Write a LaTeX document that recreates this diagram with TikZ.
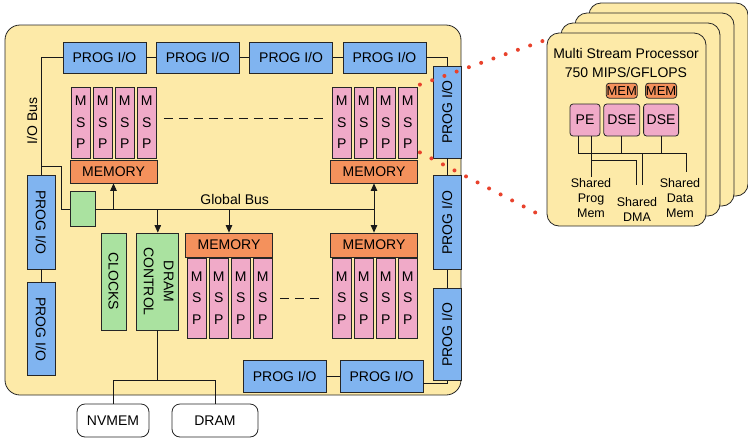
\documentclass[tikz,border=0pt]{standalone}
\usepackage{fontspec}
\setmainfont{Liberation Sans}
\usepackage{graphicx}
\usetikzlibrary{arrows.meta,positioning}
\definecolor{boardfill}{RGB}{253,234,168}
\definecolor{ioblue}{RGB}{128,180,240}
\definecolor{msppink}{RGB}{240,170,200}
\definecolor{memorange}{RGB}{244,145,92}
\definecolor{clkgreen}{RGB}{170,226,160}
\definecolor{dotred}{RGB}{232,66,44}
\tikzset{
  blk/.style={draw=black!85, line width=.8pt, inner sep=0pt, font=\fontsize{14}{16}\selectfont},
  progio/.style={blk, fill=ioblue, minimum width=83pt, minimum height=31pt},
  progiov/.style={blk, fill=ioblue, minimum width=28pt},
  msp/.style={blk, fill=msppink, align=center, minimum width=19.5pt, font=\fontsize{14}{21.5}\selectfont},
  memory/.style={blk, fill=memorange, minimum width=87pt},
  ctrl/.style={blk, fill=clkgreen},
  extmem/.style={blk, fill=white, rounded corners=8pt, minimum height=33pt},
  card/.style={draw=black!85, line width=.8pt, fill=boardfill, rounded corners=12pt,
    minimum width=159pt, minimum height=193pt},
  peunit/.style={blk, fill=msppink, rounded corners=3pt, minimum height=32pt},
  smallmem/.style={blk, fill=memorange, rounded corners=3pt, minimum height=15pt, font=\fontsize{13}{15}\selectfont},
  sharelbl/.style={align=center, inner sep=1pt, font=\fontsize{12.5}{15}\selectfont},
  wire/.style={line width=.8pt, draw=black!90},
  busarrow/.style={wire, -{Triangle[length=7.5pt,width=6.5pt]}},
  gapline/.style={wire, dash pattern=on 9pt off 6pt},
  zoomline/.style={dotred, line width=4pt, line cap=round, dash pattern=on 0pt off 13pt},
}

\begin{document}
\begin{tikzpicture}[x=1pt, y=-1pt]
\useasboundingbox (0,0) rectangle (748,440);

% Processor board
\node[card, rounded corners=15pt, minimum width=456pt, minimum height=370pt] (board) at (233,210) {};

% PROG I/O ring
\node[progio] (tio1) at (104.5,57.5) {PROG I/O};
\node[progio, right=9.5pt of tio1] (tio2) {PROG I/O};
\node[progio, right=9.5pt of tio2] (tio3) {PROG I/O};
\node[progio, right=9.5pt of tio3] (tio4) {PROG I/O};

\node[progiov, minimum height=94pt] (lio1) at (41,222) {\rotatebox{-90}{PROG I/O}};
\node[progiov, minimum height=93pt, below=13pt of lio1] (lio2) {\rotatebox{-90}{PROG I/O}};

\node[progiov, minimum height=92pt] (rio1) at (447,112) {\rotatebox{90}{PROG I/O}};
\node[progiov, minimum height=94pt, below=17pt of rio1] (rio2) {\rotatebox{90}{PROG I/O}};
\node[progiov, minimum height=92pt, below=18pt of rio2] (rio3) {\rotatebox{90}{PROG I/O}};

\node[progio, minimum height=32pt] (bio2) at (381.5,376) {PROG I/O};
\node[progio, minimum height=32pt, left=13pt of bio2] (bio1) {PROG I/O};

\draw[wire] (tio1) -- (tio2);
\draw[wire] (tio2) -- (tio3);
\draw[wire] (tio3) -- (tio4);
\draw[wire] (tio4.east) -| (rio1.north);
\draw[wire] (rio1) -- (rio2);
\draw[wire] (rio2) -- (rio3);
\draw[wire] ([yshift=-7pt]bio2.east) -| (rio3.south);
\draw[wire] (bio1) -- (bio2);
\draw[wire] (lio1) -- (lio2);

% MSP clusters
\foreach \g/\L/\Y/\H in {tl/70/122.5/71, tr/331/122.5/71, bl/186/298/80, br/331/298/80}
  \foreach \i in {0,...,3}
    \node[msp, minimum height=\H pt] (\g\i) at (\L+10.75+22*\i, \Y) {M\\S\\P};

\node[memory, minimum height=23pt] (tlmem) at (113.5,171.5) {MEMORY};
\node[memory, minimum height=23pt] (trmem) at (374,171.5) {MEMORY};
\node[memory, minimum height=24pt] (blmem) at (229,245) {MEMORY};
\node[memory, minimum height=24pt] (brmem) at (374,245) {MEMORY};

\draw[gapline] ([xshift=7pt,yshift=4.5pt]tl3.east) -- ([xshift=-7pt,yshift=4.5pt]tr0.west);
\draw[gapline] ([xshift=7pt]bl3.east) -- ([xshift=-11pt]br0.west);

% Bus, clocks and DRAM
\node[ctrl, minimum width=25pt, minimum height=35pt] (gbox) at (82.5,209) {};
\node[ctrl, minimum width=25pt, minimum height=97pt] (clocks) at (113.5,281.5) {\rotatebox{-90}{CLOCKS}};
\node[ctrl, minimum width=42pt, minimum height=97pt, right=10pt of clocks, font=\fontsize{14}{20}\selectfont] (dramctl)
  {\rotatebox{-90}{\begin{tabular}{@{}c@{}}DRAM\\CONTROL\end{tabular}}};

\node[rotate=90, font=\fontsize{14}{16}\selectfont] (iobus) at (32,121) {I/O Bus};
\coordinate (iojoin) at ([yshift=8pt]lio1.north);
\draw[wire] (tio1.west) -| (lio1.north);
\draw[wire] (iojoin) -- ++(20,0) |- (gbox.west);

\draw[wire] (gbox.east) -- node[midway, above=1pt, font=\fontsize{14}{16}\selectfont] (gbus) {Global Bus} (gbox.east -| trmem.south);
\draw[busarrow] (gbox.east -| tlmem.south) -- (tlmem.south);
\draw[busarrow] (gbox.east -| dramctl.north) -- (dramctl.north);
\draw[busarrow] (gbox.east -| blmem.north) -- (blmem.north);
\draw[wire, {Triangle[length=7.5pt,width=6.5pt]}-{Triangle[length=7.5pt,width=6.5pt]}] (trmem.south) -- (brmem.north);

\node[extmem, minimum width=72pt] (nvmem) at (113,420.5) {NVMEM};
\node[extmem, minimum width=86pt] (dram) at (215,420.5) {DRAM};
\coordinate (dsplit) at ([yshift=-50pt]dramctl.south);
\draw[wire] (dramctl.south) -- (dsplit);
\draw[wire] (nvmem.north) |- (dsplit) -| (dram.north);

% Multi stream processor detail
\foreach \k in {3,2,1}
  \node[card] (card\k) at (626.5+14*\k, 129.5-10*\k) {};
\node[card] (mspcard) at (626.5,129.5) {};

\node[font=\fontsize{14}{19}\selectfont, align=center] (msptitle) at (626,62.5) {Multi Stream Processor\\750 MIPS/GFLOPS};
\node[peunit, minimum width=30pt] (pe) at (585,120) {PE};
\node[peunit, minimum width=36pt, right=3pt of pe] (dse1) {DSE};
\node[peunit, minimum width=35pt, right=3pt of dse1] (dse2) {DSE};
\node[smallmem, minimum width=31pt, above=5pt of dse1] (mem1) {MEM};
\node[smallmem, minimum width=31pt, above=5pt of dse2] (mem2) {MEM};

\node[sharelbl] (progmem) at (591,198) {Shared\\Prog\\Mem};
\node[sharelbl] (dmamem) at (637,209) {Shared\\DMA};
\node[sharelbl] (datamem) at (680,198) {Shared\\Data\\Mem};

\coordinate (ubus) at (686,153);
\coordinate (lbus) at (636,160);
\draw[wire] ([xshift=-7pt]pe.south) |- (ubus) -- ([yshift=5pt]datamem.north -| ubus);
\draw[wire] (dse1.south) -- (dse1.south |- ubus);
\draw[wire] (dse2.south) -- (dse2.south |- ubus);
\draw[wire] (progmem.north |- pe.south) -- (progmem.north);
\draw[wire] (progmem.north |- lbus) -| ([xshift=-1pt,yshift=11pt]dmamem.north);
\draw[wire] ([xshift=5pt]dmamem.north |- ubus) -- ([xshift=5pt,yshift=11pt]dmamem.north);

% Zoom lines
\draw[zoomline] ([xshift=2pt,yshift=2pt]tr3.north east) -- ([yshift=-7pt]mspcard.north west);
\draw[zoomline] ([xshift=2pt,yshift=6pt]tr3.south east) -- ([yshift=8pt]mspcard.south west);

\end{tikzpicture}
\end{document}
